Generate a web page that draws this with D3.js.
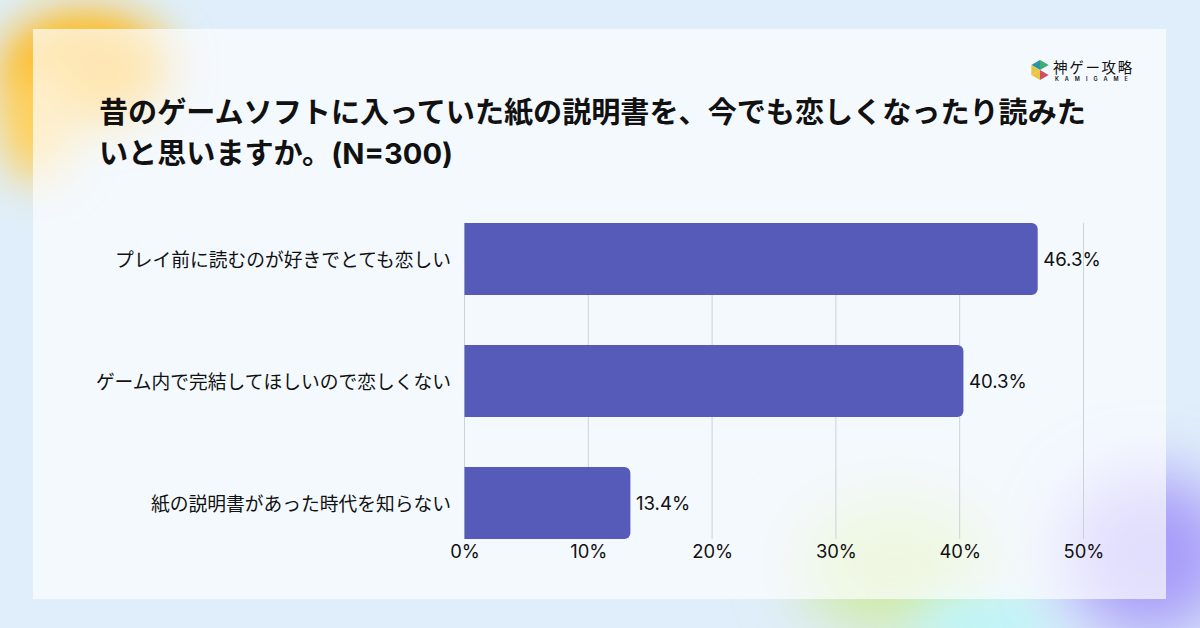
<!DOCTYPE html>
<html>
<head>
<meta charset="utf-8">
<script src="https://d3js.org/d3.v7.min.js"></script>
<style>
  html, body { margin: 0; padding: 0; background: #dfeefa; }
  svg { display: block; }
  text { font-family: Inter, "Noto Sans CJK JP", sans-serif; fill: #111; }
</style>
</head>
<body>
<div id="chart"></div>
<script>
const categories = [
    "プレイ前に読むのが好きでとても恋しい",
    "ゲーム内で完結してほしいので恋しくない",
    "紙の説明書があった時代を知らない"
];
const values = [46.3, 40.3, 13.4];
const valueLabels = ["46.3%", "40.3%", "13.4%"];
const tickValues = [0, 10, 20, 30, 40, 50];
const titleLines = [
    "昔のゲームソフトに入っていた紙の説明書を、今でも恋しくなったり読みた",
    "いと思いますか。(N=300)"
];

const width = 1200, height = 628;

const svg = d3.select("#chart").append("svg")
    .attr("width", width)
    .attr("height", height);

const defs = svg.append("defs");
defs.append("filter").attr("id", "blur")
    .attr("x", "-100%").attr("y", "-100%").attr("width", "300%").attr("height", "300%")
    .append("feGaussianBlur").attr("stdDeviation", 22);
defs.append("filter").attr("id", "blur2")
    .attr("x", "-100%").attr("y", "-100%").attr("width", "300%").attr("height", "300%")
    .append("feGaussianBlur").attr("stdDeviation", 32);

// background
svg.append("rect").attr("width", width).attr("height", height).attr("fill", "#dfeefa");

const blobs = svg.append("g");
blobs.append("ellipse").attr("cx", 85).attr("cy", 68).attr("rx", 85).attr("ry", 58)
    .attr("fill", "#ffb812").attr("filter", "url(#blur)");
blobs.append("ellipse").attr("cx", 36).attr("cy", 125).attr("rx", 36).attr("ry", 58)
    .attr("fill", "#ffd05a").attr("filter", "url(#blur)");
blobs.append("ellipse").attr("cx", 895).attr("cy", 565).attr("rx", 95).attr("ry", 66)
    .attr("fill", "#cfeaa0").attr("filter", "url(#blur2)");
blobs.append("ellipse").attr("cx", 985).attr("cy", 625).attr("rx", 75).attr("ry", 30)
    .attr("fill", "#bdf6f8").attr("filter", "url(#blur)");
blobs.append("ellipse").attr("cx", 1150).attr("cy", 555).attr("rx", 85).attr("ry", 82)
    .attr("fill", "#a79bf9").attr("filter", "url(#blur2)");

// card
svg.append("rect")
    .attr("x", 33).attr("y", 29).attr("width", 1133).attr("height", 570)
    .attr("fill", "#fefeff").attr("fill-opacity", 0.68);

// title
svg.append("g").selectAll("text")
    .data(titleLines)
    .join("text")
    .attr("x", 99)
    .attr("y", (d, i) => 123 + i * 41)
    .attr("font-size", 29.1)
    .attr("font-weight", 700)
    .text(d => d);

// scales
const x = d3.scaleLinear().domain([0, 50]).range([464.5, 1083.5]);
const y = d3.scaleBand()
    .domain(categories)
    .range([198, 564])
    .paddingInner(50 / 122)
    .paddingOuter(25 / 122);

// grid
svg.append("g").selectAll("line")
    .data(tickValues)
    .join("line")
    .attr("x1", d => x(d)).attr("x2", d => x(d))
    .attr("y1", 223).attr("y2", 539)
    .attr("stroke", "#cdd2d9")
    .attr("stroke-width", 1);

// x axis labels
const xAxis = d3.axisBottom(x)
    .tickValues(tickValues)
    .tickFormat(d => d + "%")
    .tickSize(0)
    .tickPadding(0);
const xAxisG = svg.append("g")
    .attr("transform", "translate(0,545)")
    .call(xAxis);
xAxisG.select(".domain").remove();
xAxisG.selectAll("text")
    .attr("font-size", 18.4)
    .attr("font-family", "Inter")
    .attr("fill", "#111");

// bars, left corners square and right corners rounded
const r = 6;
const barPath = (d, i) => {
    const p = d3.path();
    const cat = categories[i];
    const x0 = x(0), x1 = x(d), y0 = y(cat), y1 = y0 + y.bandwidth();
    p.moveTo(x0, y0);
    p.lineTo(x1 - r, y0);
    p.arcTo(x1, y0, x1, y0 + r, r);
    p.lineTo(x1, y1 - r);
    p.arcTo(x1, y1, x1 - r, y1, r);
    p.lineTo(x0, y1);
    p.closePath();
    return p.toString();
};
svg.append("g").selectAll("path")
    .data(values)
    .join("path")
    .attr("d", barPath)
    .attr("fill", "#565ab8");

// category labels
svg.append("g").selectAll("text")
    .data(categories)
    .join("text")
    .attr("x", 451)
    .attr("y", d => y(d) + y.bandwidth() / 2)
    .attr("dy", "0.42em")
    .attr("text-anchor", "end")
    .attr("font-size", 18.75)
    .text(d => d);

// value labels
svg.append("g").selectAll("text")
    .data(values)
    .join("text")
    .attr("x", d => x(d) + 5.5)
    .attr("y", (d, i) => y(categories[i]) + y.bandwidth() / 2)
    .attr("dy", "0.4em")
    .attr("font-size", 18.6)
    .text((d, i) => valueLabels[i]);

// logo
const logo = svg.append("g").attr("transform", "translate(1040,70)");
const hexPt = a => [10 * Math.cos(a * Math.PI / 180), 10 * Math.sin(a * Math.PI / 180)];
const logoAngles = [-90, -150, 150, 90, 30];
const logoColors = ["#3fae72", "#2b93a8", "#e8c544", "#e8c544", "#cf4f66"];
logo.selectAll("path")
    .data(logoAngles)
    .join("path")
    .attr("d", a => d3.line()([[0, 0], hexPt(a), hexPt(a + 60)]) + "Z")
    .attr("fill", (a, i) => logoColors[i]);
logo.append("text")
    .attr("x", 13).attr("y", 2.5)
    .attr("font-size", 14.5)
    .attr("letter-spacing", 1.7)
    .attr("fill", "#333")
    .text("神ゲー攻略");
logo.append("text")
    .attr("x", 15).attr("y", 10.5)
    .attr("font-size", 5.5)
    .attr("font-weight", 600)
    .attr("letter-spacing", 6)
    .attr("fill", "#333")
    .text("KAMIGAME");
</script>
</body>
</html>
